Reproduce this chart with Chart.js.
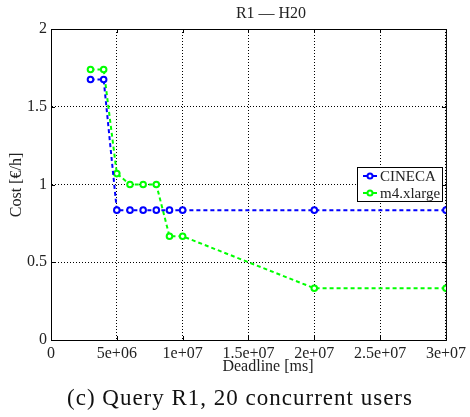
<!DOCTYPE html>
<html>
<head>
<meta charset="utf-8">
<script src="https://cdn.jsdelivr.net/npm/chart.js@4/dist/chart.umd.min.js"></script>
<style>
  html, body { margin: 0; padding: 0; background: #fff; }
  #wrap { width: 470px; height: 417px; }
</style>
</head>
<body>
<div id="wrap"><canvas id="chart" width="470" height="417"></canvas></div>
<script>
// data
const deadlineCineca = [3e6, 4e6, 5e6, 6e6, 7e6, 8e6, 9e6, 1e7, 2e7, 3e7];
const costCineca = [1.675, 1.675, 0.835, 0.835, 0.835, 0.835, 0.835, 0.835, 0.835, 0.835];
const deadlineM4 = [3e6, 4e6, 5e6, 6e6, 7e6, 8e6, 9e6, 1e7, 2e7, 3e7];
const costM4 = [1.74, 1.74, 1.07, 1.0, 1.0, 1.0, 0.667, 0.667, 0.333, 0.333];
const xTickLabels = ['0', '5e+06', '1e+07', '1.5e+07', '2e+07', '2.5e+07', '3e+07'];
const yTickLabels = ['0', '0.5', '1', '1.5', '2'];

const serif = "'Liberation Serif', 'DejaVu Serif', serif";
Chart.defaults.font.family = serif;
Chart.defaults.color = '#222';

function toPoints(xs, ys) {
    return xs.map((x, i) => ({ x: x, y: ys[i] }));
}

// frame, inner ticks, titles, legend
const decorations = {
    id: 'decorations',
    afterDraw(chart) {
        const ctx = chart.ctx;
        const a = chart.chartArea;
        const xs = chart.scales.x, ys = chart.scales.y;
        ctx.save();
        ctx.strokeStyle = '#000';
        ctx.lineWidth = 1;
        ctx.setLineDash([]);
        ctx.strokeRect(a.left + 0.5, a.top + 0.5, a.right - a.left, a.bottom - a.top);
        ctx.beginPath();
        xs.ticks.forEach(t => {
            const px = Math.round(xs.getPixelForValue(t.value)) + 0.5;
            ctx.moveTo(px, a.bottom); ctx.lineTo(px, a.bottom - 4);
            ctx.moveTo(px, a.top); ctx.lineTo(px, a.top + 4);
        });
        ys.ticks.forEach(t => {
            const py = Math.round(ys.getPixelForValue(t.value)) + 0.5;
            ctx.moveTo(a.left, py); ctx.lineTo(a.left + 4, py);
            ctx.moveTo(a.right, py); ctx.lineTo(a.right - 4, py);
        });
        ctx.stroke();

        ctx.fillStyle = '#222';
        ctx.textAlign = 'center';
        ctx.textBaseline = 'middle';
        ctx.font = '16px ' + serif;
        ctx.fillText('R1 \u2014 H20', 271, 14);
        ctx.fillText('Deadline [ms]', 268, 367);
        ctx.save();
        ctx.translate(17, 185);
        ctx.rotate(-Math.PI / 2);
        ctx.fillText('Cost [\u20ac/h]', 0, 0);
        ctx.restore();
        ctx.font = '23px ' + serif;
        ctx.fillStyle = '#111';
        ctx.letterSpacing = '1px';
        ctx.fillText('(c) Query R1, 20 concurrent users', 240, 399);
        ctx.letterSpacing = '0px';

        // legend box
        const lx = 357, ly = 167, lw = 85, lh = 34;
        ctx.fillStyle = '#fff';
        ctx.fillRect(lx, ly, lw, lh);
        ctx.strokeStyle = '#000';
        ctx.lineWidth = 1;
        ctx.strokeRect(lx + 0.5, ly + 0.5, lw, lh);
        ctx.font = '15px ' + serif;
        ctx.textAlign = 'left';
        chart.data.datasets.forEach((ds, i) => {
            const cy = ly + 9 + i * 17;
            ctx.strokeStyle = ds.borderColor;
            ctx.lineWidth = 2;
            ctx.beginPath();
            ctx.moveTo(lx + 6, cy); ctx.lineTo(lx + 20, cy);
            ctx.stroke();
            ctx.beginPath();
            ctx.arc(lx + 13, cy, 2.5, 0, Math.PI * 2);
            ctx.fillStyle = '#fff';
            ctx.fill();
            ctx.stroke();
            ctx.fillStyle = '#222';
            ctx.fillText(ds.label, lx + 23, cy + 1);
        });
        ctx.restore();
    }
};

new Chart(document.getElementById('chart'), {
    type: 'line',
    data: {
        datasets: [{
            label: 'CINECA',
            data: toPoints(deadlineCineca, costCineca),
            borderColor: '#0000ff',
            backgroundColor: '#ffffff',
            borderWidth: 2,
            borderDash: [4, 3],
            pointRadius: 2.8,
            pointBorderWidth: 2,
            pointBackgroundColor: '#ffffff',
            fill: false
        }, {
            label: 'm4.xlarge',
            data: toPoints(deadlineM4, costM4),
            borderColor: '#00ff00',
            backgroundColor: '#ffffff',
            borderWidth: 2,
            borderDash: [4, 3],
            pointRadius: 2.8,
            pointBorderWidth: 2,
            pointBackgroundColor: '#ffffff',
            fill: false
        }]
    },
    options: {
        responsive: false,
        animation: false,
        layout: { padding: { top: 29, right: 24, left: 0, bottom: 0 } },
        plugins: {
            legend: { display: false },
            tooltip: { enabled: false }
        },
        scales: {
            x: {
                type: 'linear',
                min: 0,
                max: 3e7,
                afterFit: s => { s.height = 77; },
                ticks: {
                    stepSize: 5e6,
                    padding: 4,
                    maxRotation: 0,
                    font: { size: 16 },
                    callback: (v) => xTickLabels[Math.round(v / 5e6)]
                },
                grid: { color: '#000', lineWidth: 1, drawTicks: false },
                border: { color: '#000', dash: [1, 2] }
            },
            y: {
                min: 0,
                max: 2,
                afterFit: s => { s.width = 51; },
                ticks: {
                    stepSize: 0.5,
                    padding: 4,
                    font: { size: 16 },
                    callback: (v) => yTickLabels[Math.round(v / 0.5)]
                },
                grid: { color: '#000', lineWidth: 1, drawTicks: false },
                border: { color: '#000', dash: [1, 2] }
            }
        }
    },
    plugins: [decorations]
});
</script>
</body>
</html>
